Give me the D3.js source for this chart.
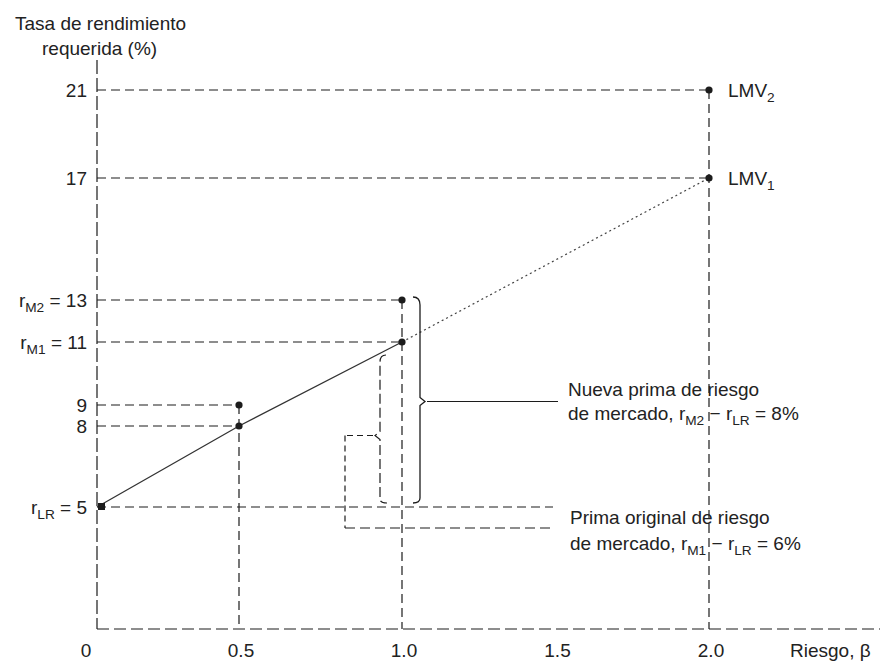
<!DOCTYPE html>
<html><head><meta charset="utf-8">
<script src="https://cdn.jsdelivr.net/npm/d3@7"></script>
<style>
body{margin:0;background:#fff}
svg{display:block}
text{font-family:"Liberation Sans",Arial,Helvetica,sans-serif;fill:#222}
</style>
</head><body>
<svg id="chart" width="884" height="667"></svg>
<script>
// Security market line: beta vs. required return (%)
const betaTicks = [0, 0.5, 1.0, 1.5, 2.0];
const betaTickLabels = ["0", "0.5", "1.0", "1.5", "2.0"];
const smlBetas = [0, 0.5, 1.0, 2.0];
const sml1Returns = [5, 8, 11, 17];   // LMV1, original market risk premium
const sml2Returns = [5, 9, 13, 21];   // LMV2, new market risk premium
const riskFree = 5;
const marketReturn1 = 11;
const marketReturn2 = 13;
// y tick labels: value and label pieces ([text, isSubscript])
const yTickValues = [5, 8, 9, 11, 13, 17, 21];
const yTickLabels = [
  [["r", 0], ["LR", 1], [" = 5", 0]],
  [["8", 0]],
  [["9", 0]],
  [["r", 0], ["M1", 1], [" = 11", 0]],
  [["r", 0], ["M2", 1], [" = 13", 0]],
  [["17", 0]],
  [["21", 0]]
];

const svg = d3.select("#chart");
const ink = "#1c1c1c";
const FS = 19;

// hand-drawn proportions of the original figure kept via piecewise scales
const x = d3.scaleLinear().domain([0, 0.5, 1, 2]).range([97, 239, 402, 709]);
const y = d3.scaleLinear().domain([0, 5, 8, 9, 11, 13, 17, 21]).range([629, 507, 426, 405, 342, 300, 178, 90]);

function rich(g, parts, attrs) {
  const t = g.append("text");
  Object.entries(attrs).forEach(([k, v]) => t.attr(k, v));
  let sub = false;
  parts.forEach(([s, isSub]) => {
    const ts = t.append("tspan").text(s);
    if (isSub && !sub) { ts.attr("dy", 5).attr("font-size", FS * 0.72); sub = true; }
    else if (!isSub && sub) { ts.attr("dy", -5); sub = false; }
    else if (isSub) ts.attr("font-size", FS * 0.72);
  });
  return t;
}

const dash = "9,5";
function seg(x1, y1, x2, y2, da, w) {
  svg.append("line").attr("x1", x1).attr("y1", y1).attr("x2", x2).attr("y2", y2)
    .attr("stroke", ink).attr("stroke-width", w || 1.2)
    .attr("stroke-dasharray", da === undefined ? dash : da);
}

// axes
seg(x(0), 60, x(0), y(0), "14,4");
seg(x(0), y(0), 880, y(0), "12,5");

// x tick labels (the zero sits just left of the vertical axis)
svg.selectAll(".xt").data(betaTicks).join("text")
  .attr("x", d => x(d) + (d === 0 ? -11 : 2)).attr("y", y(0) + 28)
  .attr("text-anchor", "middle").attr("font-size", FS)
  .text((d, i) => betaTickLabels[i]);

// y tick labels
yTickValues.forEach((v, i) => {
  rich(svg, yTickLabels[i], {x: 87, y: y(v) + 7, "text-anchor": "end", "font-size": FS});
});

// axis titles
svg.append("text").attr("x", 15).attr("y", 30).attr("font-size", FS).text("Tasa de rendimiento");
svg.append("text").attr("x", 42).attr("y", 55).attr("font-size", FS).text("requerida (%)");
rich(svg, [["Riesgo,  β", 0]], {x: 790, y: y(0) + 28, "font-size": FS});

// guide lines from the axis to each point and down to the beta axis
smlBetas.slice(1).forEach((b, i) => {
  const r1 = sml1Returns[i + 1], r2 = sml2Returns[i + 1];
  seg(x(0), y(r1), x(b), y(r1));
  seg(x(0), y(r2), x(b), y(r2));
  seg(x(b), y(r2), x(b), y(0));
});
// risk-free level carried to the right
seg(x(0), y(riskFree), 553, y(riskFree));

// LMV1 line: solid up to the market portfolio, dotted beyond
const line = d3.line().x(d => x(d[0])).y(d => y(d[1]));
const smlPts = smlBetas.map((b, i) => [b, sml1Returns[i]]);
svg.append("path").attr("d", line(smlPts.slice(0, 3))).attr("fill", "none")
  .attr("stroke", "#333").attr("stroke-width", 1.3);
svg.append("path").attr("d", line(smlPts.slice(2))).attr("fill", "none")
  .attr("stroke", "#444").attr("stroke-width", 1.2).attr("stroke-dasharray", "2,3");

// points
const pts = smlBetas.slice(1).flatMap((b, i) => [[b, sml1Returns[i + 1]], [b, sml2Returns[i + 1]]]);
svg.selectAll(".pt").data(pts).join("circle")
  .attr("cx", d => x(d[0])).attr("cy", d => y(d[1])).attr("r", 3.6).attr("fill", ink);
svg.append("rect").attr("x", x(0) + 1).attr("y", y(riskFree) - 4).attr("width", 7).attr("height", 7).attr("fill", ink);

// LMV labels
rich(svg, [["LMV", 0], ["2", 1]], {x: 728, y: y(21) + 7, "font-size": FS});
rich(svg, [["LMV", 0], ["1", 1]], {x: 728, y: y(17) + 7, "font-size": FS});

// bracket for the new market risk premium (rM2 - rLR)
const bx = x(1) + 18;
const bTop = y(marketReturn2), bBot = y(riskFree) - 4, bMid = (bTop + bBot) / 2;
svg.append("path").attr("fill", "none").attr("stroke", ink).attr("stroke-width", 1.3)
  .attr("d", `M${bx - 7},${bTop - 3} Q${bx},${bTop - 3} ${bx},${bTop + 5} V${bMid - 4} L${bx + 5},${bMid} L${bx},${bMid + 4} V${bBot - 5} Q${bx},${bBot} ${bx - 7},${bBot}`);
seg(bx + 7, bMid, 558, bMid, "none", 1.2);

// bracket for the original market risk premium (rM1 - rLR)
const sx = x(1) - 22;
const sTop = y(marketReturn1) + 16, sBot = y(riskFree) - 4, sMid = (sTop + sBot) / 2 + 5;
svg.append("path").attr("fill", "none").attr("stroke", ink).attr("stroke-width", 1.2)
  .attr("stroke-dasharray", "10,4")
  .attr("d", `M${sx + 6},${sTop - 3} Q${sx},${sTop - 3} ${sx},${sTop + 4} V${sMid - 4} L${sx - 5},${sMid} L${sx},${sMid + 4} V${sBot - 4} Q${sx},${sBot} ${sx + 7},${sBot}`);
seg(sx - 7, sMid, 345, sMid, "6,4");
seg(345, sMid, 345, 528, "6,4");
seg(345, 528, 553, 528, "10,5");

// annotations
rich(svg, [["Nueva prima de riesgo", 0]], {x: 568, y: 396, "font-size": FS});
rich(svg, [["de mercado, r", 0], ["M2", 1], [" − r", 0], ["LR", 1], [" = 8%", 0]], {x: 568, y: 420, "font-size": FS});
rich(svg, [["Prima original de riesgo", 0]], {x: 570, y: 524, "font-size": FS});
rich(svg, [["de mercado, r", 0], ["M1", 1], [" − r", 0], ["LR", 1], [" = 6%", 0]], {x: 570, y: 550, "font-size": FS});
</script>
</body></html>
